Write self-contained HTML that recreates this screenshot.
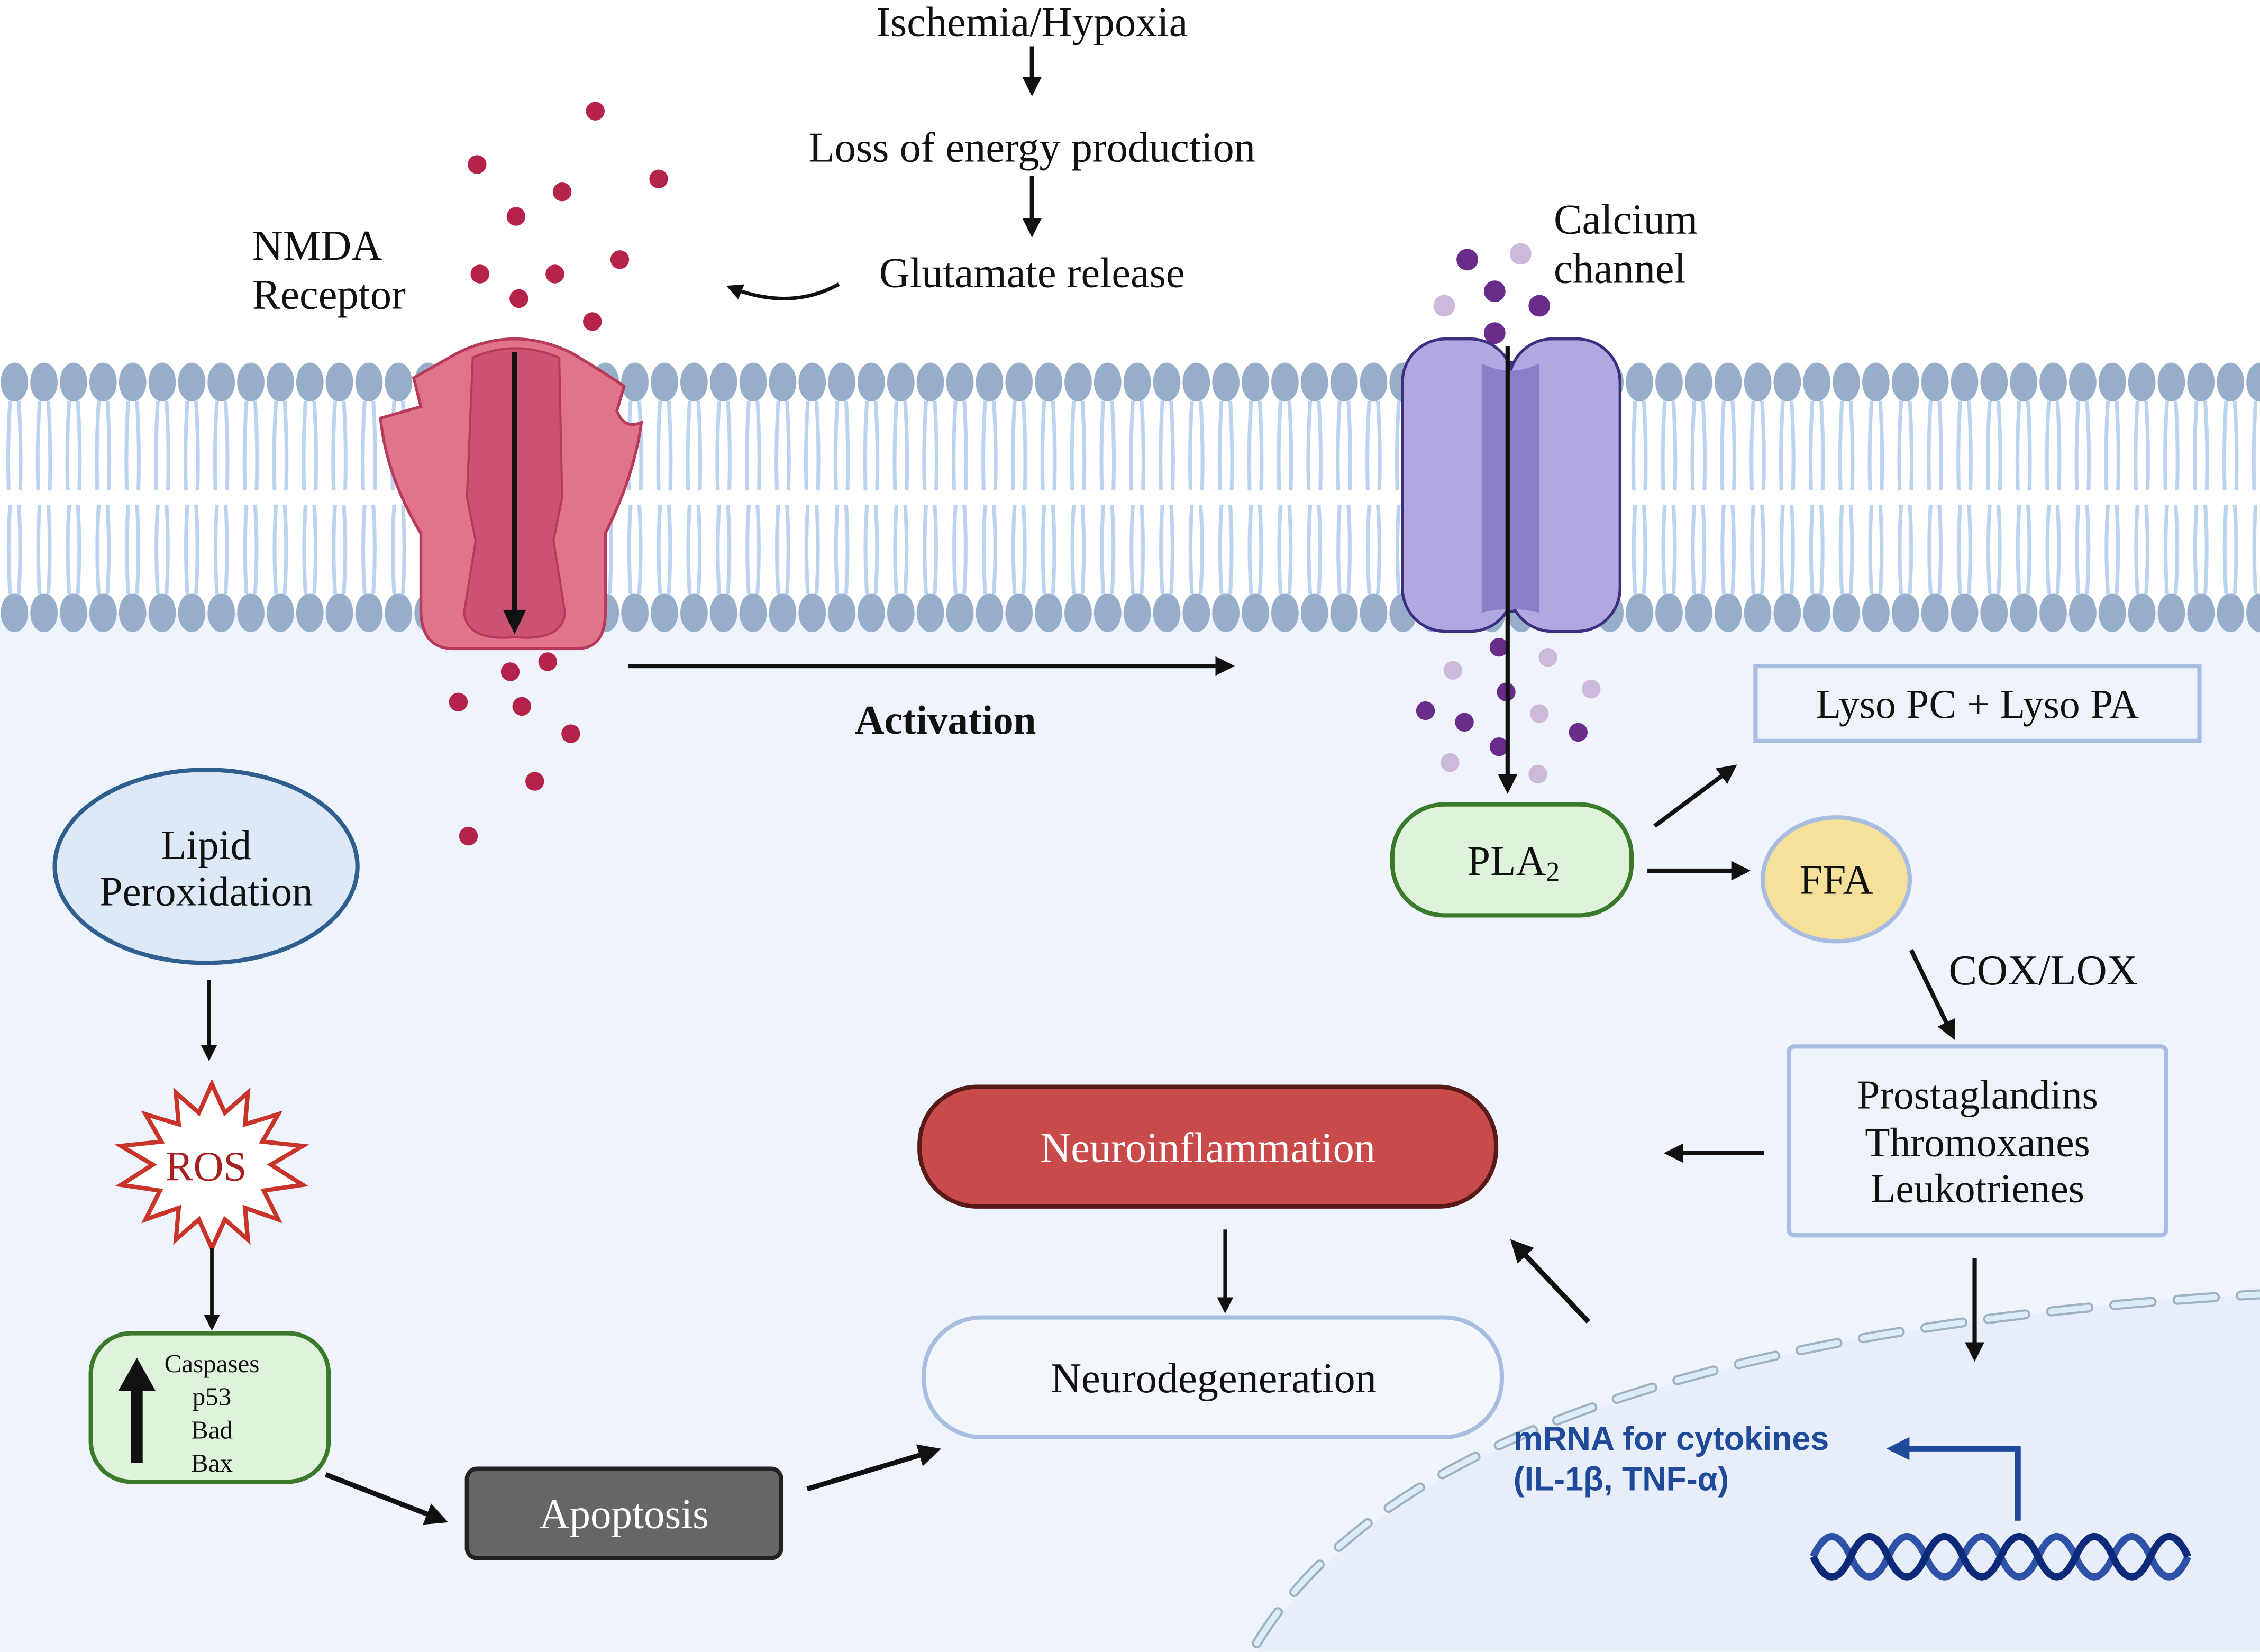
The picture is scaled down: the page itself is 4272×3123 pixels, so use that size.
<!DOCTYPE html>
<html><head><meta charset="utf-8"><style>
html,body{margin:0;padding:0;background:#fff}
svg{display:block}
text{font-family:"Liberation Serif",serif;fill:#111}
</style></head><body>
<svg width="4272" height="3123" viewBox="0 0 1568 1146" xmlns="http://www.w3.org/2000/svg">
<defs>
<marker id="ah" viewBox="0 0 10 10" refX="8" refY="5" markerWidth="4.5" markerHeight="4.5" orient="auto"><path d="M0,0 L10,5 L0,10 Z" fill="#111"/></marker>
<marker id="ab" viewBox="0 0 10 10" refX="8" refY="5" markerWidth="4" markerHeight="4" orient="auto"><path d="M0,0 L10,5 L0,10 Z" fill="#1f4a9a"/></marker>
<pattern id="mem" x="0" y="0" width="20.5" height="1146" patternUnits="userSpaceOnUse">
<path d="M7,278 Q5,310 6,340 M13,278 Q15,310 14,340 M7,350 Q5,380 7,412 M13,350 Q15,380 13,412" stroke="#bcd3ef" stroke-width="2.6" fill="none"/>
<ellipse cx="10" cy="265" rx="9.5" ry="13.5" fill="#97aecb"/>
<ellipse cx="10" cy="425" rx="9.5" ry="13.5" fill="#97aecb"/>
</pattern>
</defs>
<rect x="0" y="0" width="1568" height="1146" fill="#fff"/>
<rect x="0" y="425" width="1568" height="721" fill="#eef3fc"/>
<path d="M872,1146 Q1000,930 1568,898 L1568,1146 Z" fill="#e8eef9"/>
<path d="M872,1140 Q1000,930 1568,898" stroke="#9fb2c2" stroke-width="7" fill="none" stroke-dasharray="26,18" stroke-linecap="round"/>
<path d="M872,1140 Q1000,930 1568,898" stroke="#dcecf6" stroke-width="4" fill="none" stroke-dasharray="26,18" stroke-linecap="round"/>
<rect x="0" y="248" width="1568" height="192" fill="url(#mem)"/>

<text x="716" y="25" font-size="29.5" text-anchor="middle">Ischemia/Hypoxia</text>
<line x1="716" y1="32" x2="716" y2="64" stroke="#111" stroke-width="3" marker-end="url(#ah)"/>
<text x="716" y="112" font-size="29.5" text-anchor="middle">Loss of energy production</text>
<line x1="716" y1="122" x2="716" y2="162" stroke="#111" stroke-width="3" marker-end="url(#ah)"/>
<text x="716" y="199" font-size="29.5" text-anchor="middle">Glutamate release</text>
<path d="M582,197 Q548,216 506,199" stroke="#111" stroke-width="2.5" fill="none" marker-end="url(#ah)"/>
<text x="175" y="180" font-size="29.5">NMDA</text>
<text x="175" y="214" font-size="29.5">Receptor</text>
<text x="1078" y="162" font-size="29.5">Calcium</text>
<text x="1078" y="196" font-size="29.5">channel</text>

<g fill="#b5224a">
<circle cx="413" cy="77" r="6.5"/><circle cx="331" cy="114" r="6.5"/><circle cx="390" cy="133" r="6.5"/><circle cx="457" cy="124" r="6.5"/><circle cx="358" cy="150" r="6.5"/><circle cx="430" cy="180" r="6.5"/><circle cx="333" cy="190" r="6.5"/><circle cx="385" cy="190" r="6.5"/><circle cx="360" cy="207" r="6.5"/><circle cx="411" cy="223" r="6.5"/>
<circle cx="354" cy="466" r="6.5"/><circle cx="380" cy="459" r="6.5"/><circle cx="318" cy="487" r="6.5"/><circle cx="362" cy="490" r="6.5"/><circle cx="396" cy="509" r="6.5"/><circle cx="371" cy="542" r="6.5"/><circle cx="325" cy="580" r="6.5"/>
</g>

<path d="M317,245 Q357,225 397,245 Q425,262 433,268 L428,285 Q433,298 445,293 Q440,330 420,370 L420,425 Q420,450 400,450 L315,450 Q293,450 292,425 L292,370 Q268,330 264,290 L292,282 L287,262 Z" fill="#e0748a" stroke="#b83a5a" stroke-width="2"/>
<path d="M328,248 Q357,235 388,248 L390,345 L384,375 L392,425 Q390,445 357,442 Q324,445 322,425 L330,375 L324,345 Z" fill="#cc5272" stroke="#b83a5a" stroke-width="1.5"/>
<line x1="357" y1="244" x2="357" y2="425" stroke="#111" stroke-width="3.5"/>
<path d="M349,423 L365,423 L357,440 Z" fill="#111"/>

<g fill="#6a2c8a">
<circle cx="1018" cy="180" r="7.5"/><circle cx="1037" cy="202" r="7.5"/><circle cx="1068" cy="212" r="7.5"/><circle cx="1037" cy="231" r="7.5"/>
<circle cx="1040" cy="449" r="6.5"/><circle cx="1045" cy="480" r="6.5"/><circle cx="989" cy="493" r="6.5"/><circle cx="1040" cy="518" r="6.5"/><circle cx="1095" cy="508" r="6.5"/><circle cx="1016" cy="501" r="6.5"/>
</g>
<g fill="#cdb9da">
<circle cx="1055" cy="176" r="7.5"/><circle cx="1002" cy="212" r="7.5"/>
<circle cx="1008" cy="465" r="6.5"/><circle cx="1074" cy="456" r="6.5"/><circle cx="1104" cy="478" r="6.5"/><circle cx="1068" cy="495" r="6.5"/><circle cx="1006" cy="529" r="6.5"/><circle cx="1067" cy="537" r="6.5"/>
</g>
<path d="M1020,245 Q1048,258 1078,245 L1078,428 Q1048,420 1020,428 Z" fill="#8a7fc8" stroke="#3d2f80" stroke-width="2"/>
<rect x="973" y="235" width="77" height="203" rx="30" fill="#b0a8e0" stroke="#3d2f80" stroke-width="2"/>
<rect x="1047" y="235" width="77" height="203" rx="30" fill="#b0a8e0" stroke="#3d2f80" stroke-width="2"/>
<path d="M1028,252 Q1048,262 1068,252 L1068,425 Q1048,420 1028,425 Z" fill="#8a7fc8"/>
<line x1="1046" y1="240" x2="1046" y2="548" stroke="#111" stroke-width="3" marker-end="url(#ah)"/>

<line x1="436" y1="462" x2="854" y2="462" stroke="#111" stroke-width="3" marker-end="url(#ah)"/>
<text x="656" y="509" font-size="28.3" font-weight="bold" text-anchor="middle">Activation</text>

<rect x="1218" y="462" width="308" height="52" fill="#eef3fa" stroke="#a9bde0" stroke-width="3"/>
<text x="1372" y="498" font-size="28.5" text-anchor="middle">Lyso PC + Lyso PA</text>
<rect x="966" y="558" width="166" height="77" rx="36" fill="#dff3dc" stroke="#3a7a2a" stroke-width="3"/>
<text x="1050" y="607" font-size="29" text-anchor="middle">PLA<tspan font-size="19" dy="4">2</tspan></text>
<line x1="1148" y1="573" x2="1203" y2="532" stroke="#111" stroke-width="3" marker-end="url(#ah)"/>
<line x1="1143" y1="604" x2="1212" y2="604" stroke="#111" stroke-width="3" marker-end="url(#ah)"/>
<ellipse cx="1274" cy="610" rx="51" ry="43" fill="#f5e19a" stroke="#a9bde0" stroke-width="3"/>
<text x="1274" y="620" font-size="29" text-anchor="middle">FFA</text>
<line x1="1326" y1="659" x2="1355" y2="719" stroke="#111" stroke-width="3" marker-end="url(#ah)"/>
<text x="1352" y="683" font-size="29.5">COX/LOX</text>
<rect x="1241" y="726" width="262" height="131" rx="4" fill="#eef3fa" stroke="#a9bde0" stroke-width="3"/>
<text x="1372" y="769" font-size="28.4" text-anchor="middle">Prostaglandins</text>
<text x="1372" y="802" font-size="28.4" text-anchor="middle">Thromoxanes</text>
<text x="1372" y="834" font-size="28.4" text-anchor="middle">Leukotrienes</text>
<line x1="1224" y1="800" x2="1157" y2="800" stroke="#111" stroke-width="3" marker-end="url(#ah)"/>
<line x1="1370" y1="873" x2="1370" y2="942" stroke="#111" stroke-width="3" marker-end="url(#ah)"/>

<rect x="638" y="754" width="400" height="83" rx="40" fill="#c94a4a" stroke="#5a1a1a" stroke-width="3"/>
<text x="838" y="806" font-size="29.5" text-anchor="middle" style="fill:#fff">Neuroinflammation</text>
<line x1="850" y1="853" x2="850" y2="909" stroke="#111" stroke-width="2.5" marker-end="url(#ah)"/>
<rect x="641" y="914" width="401" height="83" rx="40" fill="#f3f6fb" stroke="#a9bde0" stroke-width="3"/>
<text x="842" y="966" font-size="29.5" text-anchor="middle">Neurodegeneration</text>
<line x1="1102" y1="917" x2="1050" y2="862" stroke="#111" stroke-width="3.5" marker-end="url(#ah)"/>

<text x="1050" y="1006" font-size="23" font-weight="bold" style="font-family:'Liberation Sans',sans-serif;fill:#1f4a9a">mRNA for cytokines</text>
<text x="1050" y="1034" font-size="23" font-weight="bold" style="font-family:'Liberation Sans',sans-serif;fill:#1f4a9a">(IL-1β, TNF-α)</text>
<path d="M1400,1055 V1005 H1312" stroke="#1f4a9a" stroke-width="4" fill="none" marker-end="url(#ab)"/>
<path d="M1258,1080 Q1271,1052 1284,1080 T1310,1080 T1336,1080 T1362,1080 T1388,1080 T1414,1080 T1440,1080 T1466,1080 T1492,1080 T1518,1080" stroke="#2d52a8" stroke-width="5" fill="none"/>
<path d="M1258,1080 Q1271,1108 1284,1080 T1310,1080 T1336,1080 T1362,1080 T1388,1080 T1414,1080 T1440,1080 T1466,1080 T1492,1080 T1518,1080" stroke="#0d2a7a" stroke-width="5" fill="none"/>

<ellipse cx="143" cy="601" rx="105" ry="67" fill="#dde9f7" stroke="#2f5f8f" stroke-width="3"/>
<text x="143" y="596" font-size="29" text-anchor="middle">Lipid</text>
<text x="143" y="628" font-size="29" text-anchor="middle">Peroxidation</text>
<line x1="145" y1="680" x2="145" y2="734" stroke="#111" stroke-width="2.5" marker-end="url(#ah)"/>
<polygon points="147,752 156,772 172,758 170,780 193,773 182,792 210,795 188,808 210,822 183,826 193,846 170,838 172,860 156,846 147,866 138,846 122,860 124,838 101,846 111,826 84,822 106,808 84,795 112,792 101,773 124,780 122,758 138,772" fill="#fff" stroke="#c8342a" stroke-width="3"/>
<text x="143" y="819" font-size="29" text-anchor="middle" style="fill:#a82020">ROS</text>
<line x1="147" y1="866" x2="147" y2="921" stroke="#111" stroke-width="2.5" marker-end="url(#ah)"/>
<rect x="63" y="925" width="165" height="103" rx="28" fill="#dff3dc" stroke="#3a7a2a" stroke-width="3"/>
<line x1="95" y1="1015" x2="95" y2="960" stroke="#111" stroke-width="8"/>
<path d="M82,965 L108,965 L95,942 Z" fill="#111"/>
<text x="147" y="952" font-size="18" text-anchor="middle">Caspases</text>
<text x="147" y="975" font-size="18" text-anchor="middle">p53</text>
<text x="147" y="998" font-size="18" text-anchor="middle">Bad</text>
<text x="147" y="1021" font-size="18" text-anchor="middle">Bax</text>
<line x1="226" y1="1023" x2="308" y2="1055" stroke="#111" stroke-width="3.5" marker-end="url(#ah)"/>
<rect x="324" y="1019" width="218" height="62" rx="7" fill="#666" stroke="#222" stroke-width="3"/>
<text x="433" y="1060" font-size="29" text-anchor="middle" style="fill:#fff">Apoptosis</text>
<line x1="560" y1="1033" x2="650" y2="1006" stroke="#111" stroke-width="3.5" marker-end="url(#ah)"/>
</svg>
</body></html>
